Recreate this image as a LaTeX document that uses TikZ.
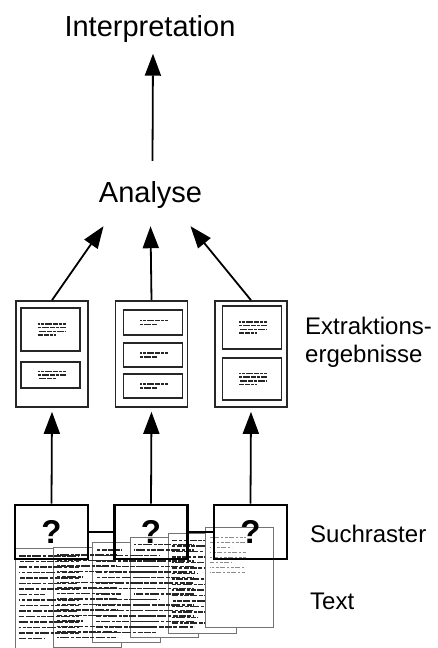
\documentclass[tikz,border=0pt]{standalone}
\usepackage{fontspec}
\setmainfont{Liberation Sans}
\usetikzlibrary{arrows.meta}

\tikzset{
  lbl/.style={font=\fontsize{29}{30}\selectfont, inner sep=0pt},
  side/.style={font=\fontsize{24}{28}\selectfont, align=left, anchor=west, inner sep=0pt},
  arr/.style={line width=1.8pt, -{Triangle[length=22pt,width=16pt]}},
  result/.style={draw=black!85, line width=1.6pt, fill=white, minimum width=72pt, minimum height=106pt, inner sep=0pt},
  part/.style={draw=black!85, line width=1.3pt, minimum width=59pt, inner sep=0pt},
  blurb/.style={line width=1.5pt, black!85, dash pattern=on 5pt off 1pt on 3pt off 1pt on 7pt off 1pt},
  raster/.style={draw, line width=2.8pt, minimum width=73pt, minimum height=54pt, inner sep=0pt, font=\bfseries\fontsize{33}{33}\selectfont},
  page/.style={draw=black!55, line width=0.9pt, fill=white, minimum width=68pt, minimum height=100pt, inner sep=0pt},
  scrib/.style={line width=1.8pt, black!85, dash pattern=on 7pt off 1.5pt on 4pt off 1.2pt on 9pt off 2pt on 3pt off 1.5pt on 5pt off 1pt},
  faint/.style={line width=1pt, black!45, dash pattern=on 3pt off 1.5pt on 5pt off 2pt on 2pt off 1.5pt}
}

\begin{document}
\begin{tikzpicture}[x=1pt,y=-1pt]
            \useasboundingbox (0,0) rectangle (437,648);

            \node[lbl] (interp) at (150,29) {Interpretation};
            \node[lbl] (ana) at (150.5,194.5) {Analyse};

            \node[result] (res1) at (52,354) {};
            \node[result] (res2) at (151.5,354) {};
            \node[result] (res3) at (251,354) {};

            \node[part, minimum height=43pt] (r1a) at (50.5,329.5) {};
            \node[part, minimum height=26pt] (r1b) at (50.5,375) {};
            \node[part, minimum height=25pt] (r2a) at (153,322.5) {};
            \node[part, minimum height=24pt] (r2b) at (153,355) {};
            \node[part, minimum height=24pt] (r2c) at (153,386) {};
            \node[part, minimum height=43pt] (r3a) at (252,327.5) {};
            \node[part, minimum height=42pt] (r3b) at (252,379) {};

            \foreach \nm/\n in {r1a/4, r1b/3, r2a/2, r2b/2, r2c/2, r3a/4, r3b/4}
              \foreach \k in {1,...,\n}
                \draw[blurb, dash phase=\k*3pt] ([xshift=-13pt, yshift={(\n+1)*1.8pt-\k*3.6pt}]\nm.center) -- ++({ifthenelse(\k==\n,18,28)},0);

            \node[side] (extr) at (305,342) {Extraktions-\\ergebnisse};

            \node[page] (p1) at (49,598.5) {};
            \node[page] (p2) at (87.5,597.5) {};
            \node[page] (p3) at (126,592.5) {};
            \node[page] (p4) at (164.5,587) {};
            \node[page] (p5) at (202,583) {};
            \foreach \nm/\ph in {p1/0,p2/11,p3/23,p4/5,p5/17}
              \foreach \k in {0,...,15}
                \draw[scrib, dash phase={\ph*1pt+\k*7pt}] ([xshift=4pt, yshift={-8pt-\k*5.5pt}]\nm.north west) -- ++({ifthenelse(mod(\k+\ph,8)==7,26,60)},0);
            \node[page] (p6) at (239,577.5) {};
            \foreach \k in {0,...,7}
              \draw[faint, dash phase=\k*4pt] ([xshift=5pt, yshift={-10pt-\k*5pt}]p6.north west) -- ++({ifthenelse(mod(\k,3)==2,22,36)},0);

            \node[raster] (sr1) at (51.5,532) {?};
            \node[raster] (sr2) at (151,532) {?};
            \node[raster] (sr3) at (250.5,532) {?};
            \draw[line width=2.8pt] (sr1.east) -- (sr2.west);
            \draw[line width=2.8pt] (sr2.east) -- (sr3.west);

            \node[side] (such) at (310,533.5) {Suchraster};
            \node[side] (txt) at (310,601.5) {Text};

            \draw[arr, shorten >=4pt] (sr1.north) -- (res1.south);
            \draw[arr, shorten >=4pt] (sr2.north) -- (res2.south);
            \draw[arr, shorten >=4pt] (sr3.north) -- (res3.south);

            \draw[arr] (res1.north) -- ([xshift=-47pt, yshift=-18pt]ana.south);
            \draw[arr] (res2.north) -- ([yshift=-18pt]ana.south);
            \draw[arr] (res3.north) -- ([xshift=40pt, yshift=-18pt]ana.south);

            \draw[arr] ([xshift=2pt, yshift=20pt]ana.north) -- ([xshift=3pt, yshift=-11pt]interp.south);
          \end{tikzpicture}
\end{document}
